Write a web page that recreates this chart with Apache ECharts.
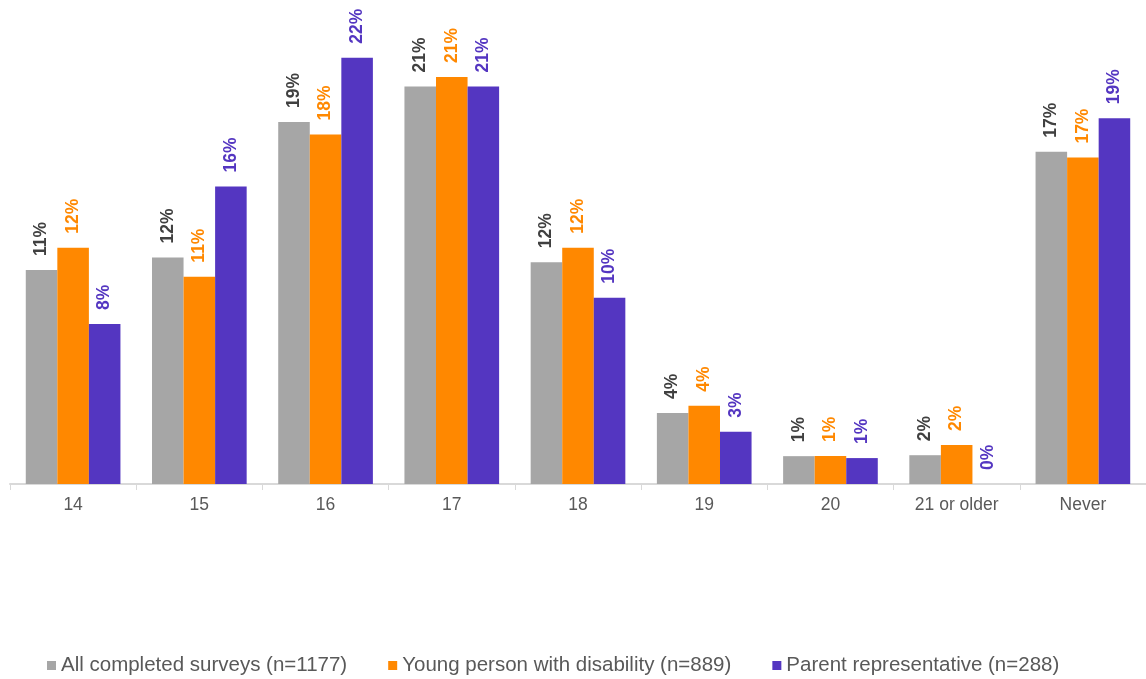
<!DOCTYPE html>
<html>
<head>
<meta charset="utf-8">
<script src="https://cdn.jsdelivr.net/npm/echarts@6/dist/echarts.min.js"></script>
<style>
html,body{margin:0;padding:0;background:#fff;}
#chart{width:1146px;height:679px;}
</style>
</head>
<body>
<div id="chart"></div>
<script>
const categories = ['14', '15', '16', '17', '18', '19', '20', '21 or older', 'Never'];
const seriesNames = ['All completed surveys (n=1177)', 'Young person with disability (n=889)', 'Parent representative (n=288)'];
const allSurveys = [11.15, 11.8, 18.85, 20.7, 11.55, 3.7, 1.45, 1.5, 17.3];
const youngPerson = [12.3, 10.8, 18.2, 21.2, 12.3, 4.07, 1.46, 2.03, 17.0];
const parentRep = [8.33, 15.5, 22.2, 20.7, 9.7, 2.72, 1.35, 0, 19.05];

const barColors = ['#a6a6a6', '#ff8800', '#5436c1'];
const labelColors = ['#404040', '#ff8800', '#5436c1'];
const values = [allSurveys, youngPerson, parentRep];

const chart = echarts.init(document.getElementById('chart'), null, {renderer: 'canvas'});
const font = '"Liberation Sans", Arial, sans-serif';

chart.setOption({
  animation: false,
  backgroundColor: '#ffffff',
  grid: {left: 10, top: 4, width: 1143, height: 480},
  legend: {
    left: 47, top: 655, padding: 0,
    itemWidth: 9, itemHeight: 9, itemGap: 41,
    icon: 'rect',
    textStyle: {fontFamily: font, fontSize: 20.5, color: '#595959'},
    data: seriesNames
  },
  xAxis: {
    type: 'category',
    data: categories,
    axisLine: {lineStyle: {color: '#d9d9d9', width: 2}},
    axisTick: {show: true, length: 6, lineStyle: {color: '#d9d9d9', width: 1}},
    axisLabel: {fontFamily: font, fontSize: 17.5, color: '#595959', margin: 12}
  },
  yAxis: {
    type: 'value', min: 0, max: 25,
    show: false,
    splitLine: {show: false}
  },
  series: values.map((arr, i) => ({
    name: seriesNames[i],
    type: 'bar',
    data: arr,
    barGap: '0%',
    barCategoryGap: '25%',
    itemStyle: {color: barColors[i]},
    label: {
      show: true,
      position: 'top',
      distance: 14,
      rotate: 90,
      align: 'left',
      verticalAlign: 'middle',
      fontFamily: font,
      fontWeight: 'bold',
      fontSize: 17.5,
      color: labelColors[i],
      formatter: p => Math.round(p.value) + '%'
    }
  }))
});
</script>
</body>
</html>
